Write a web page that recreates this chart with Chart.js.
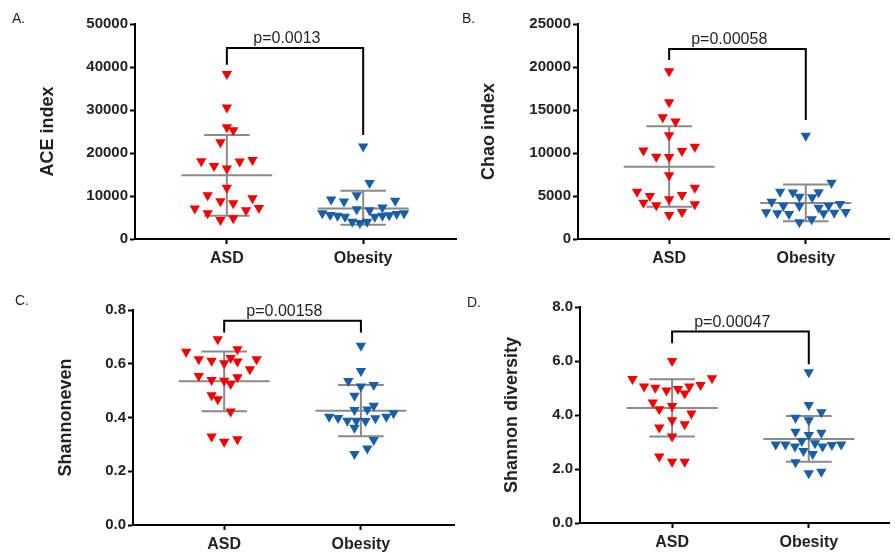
<!DOCTYPE html>
<html>
<head>
<meta charset="utf-8">
<script src="https://cdn.jsdelivr.net/npm/chart.js@4.4.1/dist/chart.umd.min.js"></script>
<style>
  body { margin: 0; background: #fff; }
  #wrap { position: relative; width: 895px; height: 554px; overflow: hidden; background: #fff; }
  canvas { position: absolute; }
  .tag { position: absolute; font: 14px "Liberation Sans", Arial, sans-serif; color: #231f20; line-height: 14px; }
</style>
</head>
<body>
<div id="wrap">
  <canvas id="cA" width="462" height="277" style="left:0;top:0"></canvas>
  <canvas id="cB" width="433" height="277" style="left:462px;top:0"></canvas>
  <canvas id="cC" width="460" height="277" style="left:0;top:277px"></canvas>
  <canvas id="cD" width="435" height="277" style="left:460px;top:277px"></canvas>
  <div class="tag" style="left:12px;top:11px">A.</div>
  <div class="tag" style="left:462px;top:11px">B.</div>
  <div class="tag" style="left:15px;top:293px">C.</div>
  <div class="tag" style="left:467px;top:295px">D.</div>
</div>
<script>
// groups on the x axis
const groups = ["ASD", "Obesity"];

// A. ACE index
const aceAsd = [38400, 30600, 26000, 25300, 22500, 18100, 17000, 16400, 18000, 18400, 11900, 10200, 8800, 8300, 9500, 7100, 6000, 6700, 7200, 4400, 4800];
const aceAsdX = [0, 0, 0, 0.047, -0.047, -0.188, -0.094, 0, 0.094, 0.188, 0, -0.141, -0.047, 0.047, 0.188, -0.235, -0.141, 0.141, 0.235, -0.047, 0.047];
const aceObe = [21500, 13000, 9200, 8700, 10200, 8900, 6900, 6700, 7300, 6000, 5600, 5400, 5200, 5200, 5400, 5500, 5800, 6000, 4000, 3700, 4000];
const aceObeX = [0, 0.047, -0.235, -0.141, -0.047, 0.235, -0.047, 0.047, 0.141, -0.3, -0.242, -0.188, -0.133, 0.085, 0.141, 0.191, 0.246, 0.3, -0.08, -0.024, 0.029];
const aceMean = [14800, 7100];
const aceSdHi = [24200, 11200];
const aceSdLo = [5400, 3300];
const aceBracket = [40500, 44400, 24200];

// B. Chao index
const chaoAsd = [19500, 15900, 14150, 13650, 12050, 10300, 9570, 9530, 10230, 10730, 7400, 5500, 5000, 5120, 5970, 4220, 3920, 4610, 4030, 2800, 3140];
const chaoAsdX = [0, 0, -0.047, 0.047, 0, -0.188, -0.094, 0, 0.094, 0.188, 0, -0.235, -0.141, 0.094, 0.188, -0.188, -0.094, 0, 0.188, 0, 0.094];
const chaoObe = [12000, 6550, 5500, 5400, 5430, 4920, 4850, 4340, 3870, 3840, 3640, 3870, 4070, 3100, 2990, 2910, 2990, 3060, 3140, 1940, 2290];
const chaoObeX = [0, 0.188, -0.188, -0.094, 0.094, -0.047, 0.047, -0.25, -0.164, -0.047, 0.094, 0.167, 0.25, -0.29, -0.208, -0.123, 0.13, 0.208, 0.292, -0.047, 0.043];
const chaoMean = [8400, 4200];
const chaoSdHi = [13100, 6350];
const chaoSdLo = [3750, 2050];
const chaoBracket = [20800, 22100, 13840];

// C. Shannoneven
const evenAsd = [0.691, 0.645, 0.654, 0.617, 0.611, 0.602, 0.621, 0.608, 0.617, 0.580, 0.554, 0.540, 0.537, 0.550, 0.525, 0.483, 0.468, 0.422, 0.329, 0.310, 0.319];
const evenAsdX = [-0.047, -0.278, 0.097, -0.186, -0.092, 0, 0.047, 0.097, 0.237, 0.188, -0.186, -0.092, 0, 0.097, 0.047, -0.092, -0.047, 0.047, -0.092, 0, 0.097];
const evenObe = [0.667, 0.573, 0.536, 0.515, 0.521, 0.481, 0.428, 0.430, 0.444, 0.403, 0.398, 0.388, 0.388, 0.387, 0.397, 0.403, 0.416, 0.362, 0.316, 0.285, 0.264];
const evenObeX = [0, 0, -0.092, 0, 0.094, -0.047, -0.047, 0.047, 0.094, -0.232, -0.167, -0.099, -0.034, 0.034, 0.106, 0.186, 0.239, -0.047, 0.094, 0.047, -0.047];
const evenMean = [0.535, 0.425];
const evenSdHi = [0.646, 0.521];
const evenSdLo = [0.423, 0.330];
const evenBracket = [0.716, 0.760, 0.716];

// D. Shannon diversity
const divAsd = [6.0, 5.33, 5.36, 5.06, 5.01, 4.91, 4.96, 5.06, 5.11, 4.80, 4.46, 4.21, 4.33, 4.06, 3.81, 3.54, 3.66, 3.20, 2.46, 2.27, 2.27];
const divAsdX = [0, -0.29, 0.292, -0.205, -0.123, -0.041, 0.043, 0.126, 0.208, 0.092, -0.141, -0.094, 0, 0.141, 0, -0.094, 0.092, 0, -0.094, 0, 0.092];
const divObe = [5.58, 4.37, 4.10, 3.90, 3.81, 3.38, 3.26, 3.34, 3.04, 2.95, 2.91, 2.91, 2.83, 2.83, 2.89, 2.91, 2.67, 2.56, 2.25, 1.84, 1.90];
const divObeX = [0, 0, 0.092, -0.097, 0, -0.097, 0, 0.092, -0.051, 0.046, -0.242, -0.171, -0.101, 0.101, 0.169, 0.237, -0.039, 0.029, -0.097, 0, 0.092];
const divMean = [4.26, 3.11];
const divSdHi = [5.32, 3.96];
const divSdLo = [3.20, 2.27];
const divBracket = [6.66, 7.09, 5.88];

const INK = "#231f20";
const RED = "#f40000";
const BLUE = "#1a5ea8";
const GREY = "#8a8a8a";
const FONT = "'Liberation Sans', Arial, sans-serif";

function points(vals, offs, cat) {
    return vals.map((v, i) => ({ x: cat + offs[i], y: v }));
}

function seg(x1, y1, x2, y2, color) {
    return { type: "line", data: [{ x: x1, y: y1 }, { x: x2, y: y2 }], borderColor: color, borderWidth: 2,
             pointRadius: 0, showLine: true, fill: false, order: 1 };
}

function statLines(mean, hi, lo) {
    let out = [];
    for (let i = 0; i < 2; i++) {
        const c = i + 1;
        out.push(seg(c - 0.333, mean[i], c + 0.333, mean[i], GREY));
        out.push(seg(c - 0.167, hi[i], c + 0.167, hi[i], GREY));
        out.push(seg(c - 0.167, lo[i], c + 0.167, lo[i], GREY));
        out.push(seg(c, lo[i], c, hi[i], GREY));
    }
    return out;
}

function bracket(b) {
    return { type: "line", data: [{ x: 1, y: b[0] }, { x: 1, y: b[1] }, { x: 2, y: b[1] }, { x: 2, y: b[2] }],
             borderColor: "#000", borderWidth: 2, pointRadius: 0, showLine: true, fill: false, tension: 0, order: 1 };
}

// p-value text above the bracket
const pLabelPlugin = {
    id: "pLabel",
    afterDatasetsDraw(chart, args, opts) {
        const ctx = chart.ctx;
        ctx.save();
        ctx.font = "16px " + FONT;
        ctx.fillStyle = INK;
        ctx.textAlign = "center";
        ctx.textBaseline = "alphabetic";
        ctx.fillText(opts.text, chart.scales.x.getPixelForValue(1.44), chart.scales.y.getPixelForValue(opts.y) - 5);
        ctx.restore();
    }
};

function makePanel(id, p) {
    new Chart(document.getElementById(id), {
        type: "scatter",
        data: {
            datasets: [
                { data: points(p.asd, p.asdX, 1), backgroundColor: RED, borderWidth: 0, pointStyle: "triangle", rotation: 180, pointRadius: 6, order: 0 },
                { data: points(p.obe, p.obeX, 2), backgroundColor: BLUE, borderWidth: 0, pointStyle: "triangle", rotation: 180, pointRadius: 6, order: 0 },
                ...statLines(p.mean, p.hi, p.lo),
                bracket(p.bracket)
            ]
        },
        options: {
            responsive: false,
            animation: false,
            layout: { padding: { top: p.padTop, right: p.padRight, left: 0, bottom: 0 } },
            plugins: { legend: { display: false }, tooltip: { enabled: false }, pLabel: { text: p.pText, y: p.bracket[1] } },
            scales: {
                x: {
                    type: "linear", min: p.xMin, max: p.xMax,
                    afterBuildTicks: s => { s.ticks = [{ value: 1 }, { value: 2 }]; },
                    afterFit: s => { s.height = p.xHeight; },
                    ticks: { callback: v => groups[v - 1], font: { family: FONT, size: 16, weight: "bold" }, color: INK, padding: 5, maxRotation: 0 },
                    grid: { drawOnChartArea: false, tickLength: 5, tickColor: "#000", tickWidth: 2 },
                    border: { color: "#000", width: 2 }
                },
                y: {
                    min: p.yMin, max: p.yMax,
                    ticks: { stepSize: p.step, callback: v => p.fmt(v), font: { family: FONT, size: 15, weight: "bold" }, color: INK, padding: 2 },
                    afterFit: s => { s.width = p.yWidth; },
                    grid: { drawOnChartArea: false, tickLength: 5, tickColor: "#000", tickWidth: 2 },
                    border: { color: "#000", width: 2 },
                    title: { display: true, text: p.title, font: { family: FONT, size: 18, weight: "bold" }, color: INK, padding: { top: p.titlePad, bottom: 0 } }
                }
            }
        },
        plugins: [pLabelPlugin]
    });
}

makePanel("cA", { asd: aceAsd, asdX: aceAsdX, obe: aceObe, obeX: aceObeX, mean: aceMean, hi: aceSdHi, lo: aceSdLo,
    bracket: aceBracket, pText: "p=0.0013", title: "ACE index", yMin: 0, yMax: 50000, step: 10000, fmt: v => String(v),
    xMin: 0.326, xMax: 2.681, yWidth: 135, padTop: 24, padRight: 2, xHeight: 38, titlePad: 37 });

makePanel("cB", { asd: chaoAsd, asdX: chaoAsdX, obe: chaoObe, obeX: chaoObeX, mean: chaoMean, hi: chaoSdHi, lo: chaoSdLo,
    bracket: chaoBracket, pText: "p=0.00058", title: "Chao index", yMin: 0, yMax: 25000, step: 5000, fmt: v => String(v),
    xMin: 0.333, xMax: 2.609, yWidth: 116, padTop: 24, padRight: 3, xHeight: 38, titlePad: 16 });

makePanel("cC", { asd: evenAsd, asdX: evenAsdX, obe: evenObe, obeX: evenObeX, mean: evenMean, hi: evenSdHi, lo: evenSdLo,
    bracket: evenBracket, pText: "p=0.00158", title: "Shannoneven", yMin: 0, yMax: 0.8, step: 0.2, fmt: v => v.toFixed(1),
    xMin: 0.333, xMax: 2.681, yWidth: 133, padTop: 33, padRight: 3, xHeight: 29, titlePad: 55 });

makePanel("cD", { asd: divAsd, asdX: divAsdX, obe: divObe, obeX: divObeX, mean: divMean, hi: divSdHi, lo: divSdLo,
    bracket: divBracket, pText: "p=0.00047", title: "Shannon diversity", yMin: 0, yMax: 8, step: 2, fmt: v => v.toFixed(1),
    xMin: 0.326, xMax: 2.587, yWidth: 120, padTop: 30, padRight: 3, xHeight: 31, titlePad: 41 });
</script>
</body>
</html>
